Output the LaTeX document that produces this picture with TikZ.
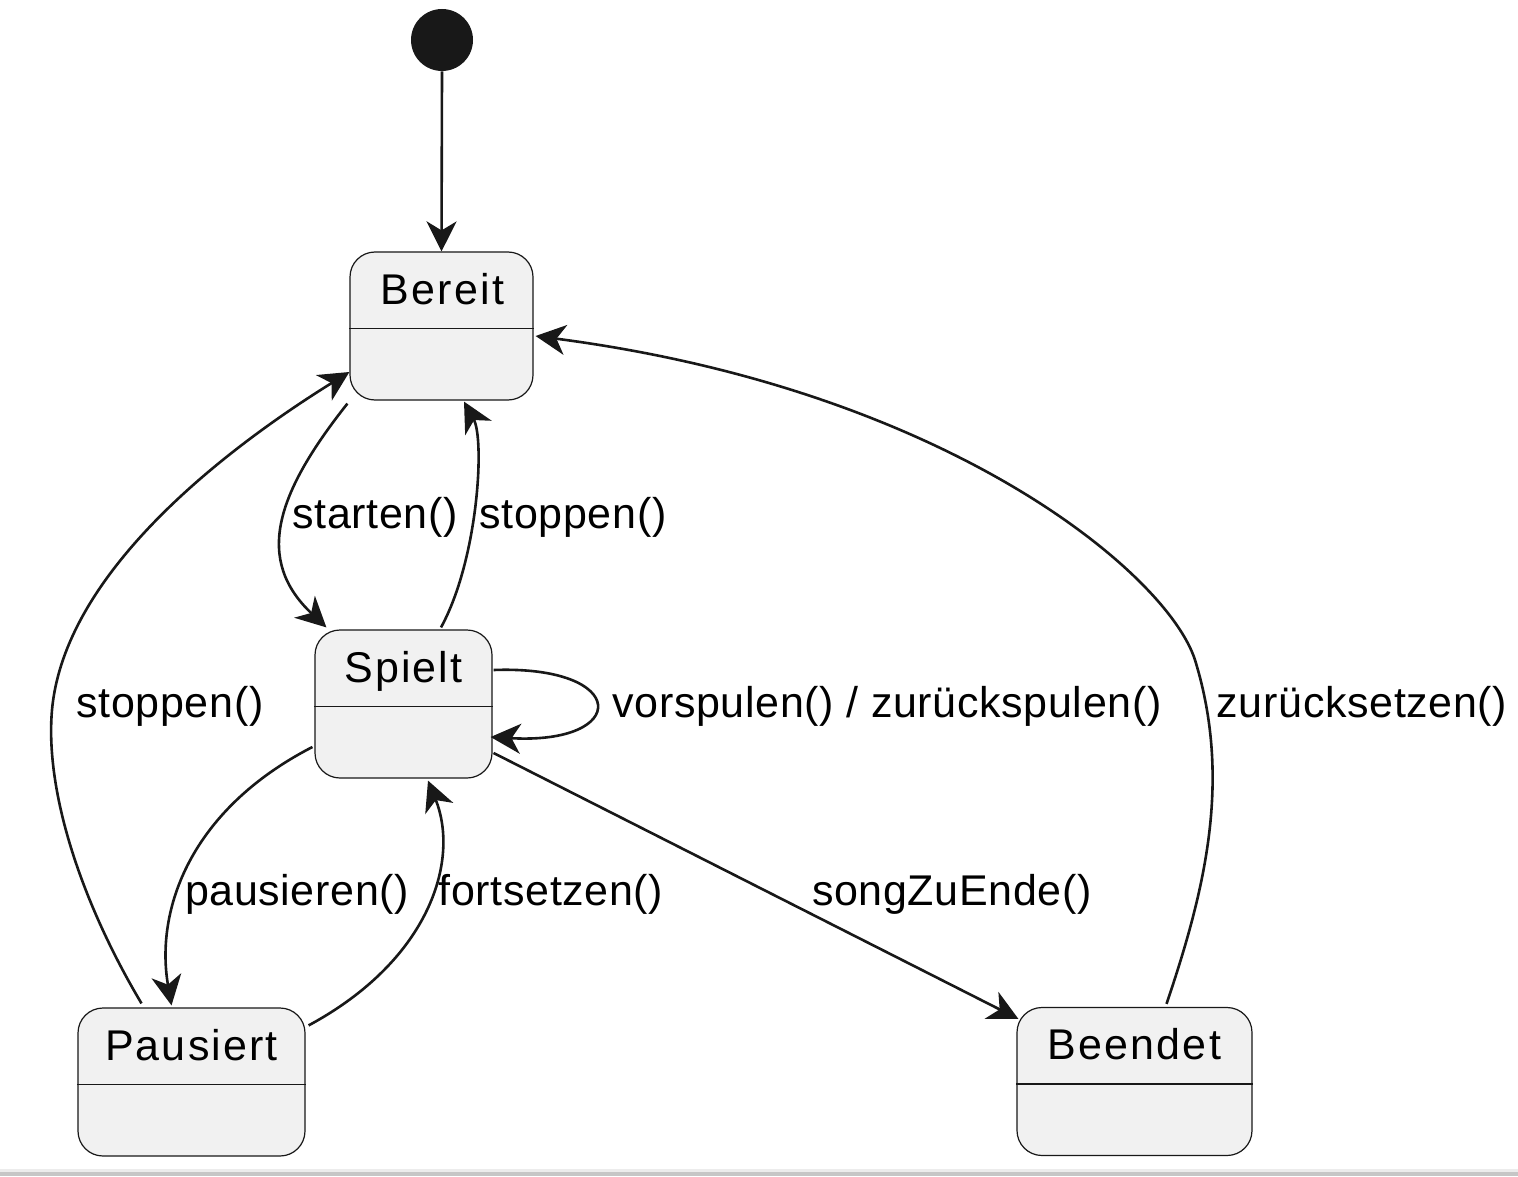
\documentclass[tikz,border=0pt]{standalone}
\usepackage{fontspec}
\setmainfont{Liberation Sans}
\usetikzlibrary{arrows.meta,calc}
\definecolor{ln}{HTML}{181818}
\definecolor{bx}{HTML}{F1F1F1}
\begin{document}
\begin{tikzpicture}[x=0.5pt,y=-0.5pt,
  statebox/.style={draw=ln, fill=bx, line width=0.6pt, rounded corners=12.5pt, inner sep=0pt, minimum height=74pt},
  divider/.style={draw=ln, line width=0.6pt},
  title/.style={inner sep=0pt, anchor=base, font=\fontsize{21.5pt}{24pt}\selectfont\addfontfeature{LetterSpace=5}},
  lbl/.style={inner sep=0pt, anchor=base, font=\fontsize{21.5pt}{24pt}\selectfont\addfontfeature{LetterSpace=1.5}},
  conn/.style={draw=ln, line width=1.3pt, -{Stealth[length=15pt,width=15pt,inset=4.5pt]}}]
\useasboundingbox (0,0) rectangle (1518,1176);
\fill[white] (0,0) rectangle (1518,1176);
\fill[gray!15] (0,1169) rectangle (1518,1172);
\fill[gray!45] (0,1172) rectangle (1518,1176);

% initial state
\node[circle, fill=ln, inner sep=0pt, minimum size=31pt] (init) at (442,40) {};

% states
\node[statebox, minimum width=91.5pt] (bereit) at (441.5,326) {};
\node[statebox, minimum width=88.5pt] (spielt) at (403.5,704) {};
\node[statebox, minimum width=113.5pt] (pausiert) at (191.5,1082) {};
\node[statebox, minimum width=117.5pt] (beendet) at (1134.5,1081.5) {};

\foreach \s in {bereit,spielt,pausiert,beendet}{
  \draw[divider] ($(\s.north west)+(0,77)$) -- ($(\s.north east)+(0,77)$);
}
\node[title] (bereitT) at ($(bereit.north)+(1,53)$) {Bereit};
\node[title] (spieltT) at ($(spielt.north)+(0,53)$) {Spielt};
\node[title] (pausiertT) at ($(pausiert.north)+(0,53)$) {Pausiert};
\node[title] (beendetT) at ($(beendet.north)+(0,53)$) {Beendet};

% connectors
\draw[conn] (init.south) -- (bereit.north);
% starten()
\draw[conn] ($(bereit.south west)+(-2,3)$) .. controls (275,495) and (255,560) .. ($(spielt.north west)+(12,-2)$);
% stoppen() Spielt -> Bereit
\draw[conn] ($(spielt.north)+(37.5,-2)$) .. controls (478,560) and (485,440) .. ($(bereit.south)+(22.5,1)$);
% self loop
\draw[conn] ($(spielt.east)+(1,-34)$) .. controls (630,665) and (630,745) .. ($(spielt.east)+(-2,33)$);
% pausieren()
\draw[conn] ($(spielt.west)+(-2,43)$) .. controls (190,810) and (155,910) .. ($(pausiert.north)+(-20,-2)$);
% fortsetzen()
\draw[conn] ($(pausiert.north east)+(3,18)$) .. controls (430,960) and (460,860) .. ($(spielt.south)+(24.5,2)$);
% songZuEnde()
\draw[conn] ($(spielt.east)+(1,49)$) -- ($(beendet.north west)+(2,12)$);
% stoppen() Pausiert -> Bereit
\draw[conn] ($(pausiert.north)+(-50,-4)$) .. controls (80,900) and (45,790) .. (52,710)
   .. controls (65,566) and (240,440) .. ($(bereit.west)+(0,46)$);
% zuruecksetzen()
\draw[conn] ($(beendet.north)+(32,-3)$) .. controls (1205,890) and (1232,780) .. (1195,660)
   .. controls (1168,575) and (950,390) .. ($(bereit.east)+(2,10)$);

% labels
\node[lbl] (lStarten) at (375,528) {starten()};
\node[lbl] (lStop1) at (573,528) {stoppen()};
\node[lbl] (lLoop) at (887,717) {vorspulen() / zurückspulen()};
\node[lbl] (lStop2) at (170,717) {stoppen()};
\node[lbl] (lReset) at (1362,717) {zurücksetzen()};
\node[lbl] (lPause) at (297,905) {pausieren()};
\node[lbl] (lFort) at (551,905) {fortsetzen()};
\node[lbl] (lEnde) at (952,905) {songZuEnde()};
\end{tikzpicture}
\end{document}
